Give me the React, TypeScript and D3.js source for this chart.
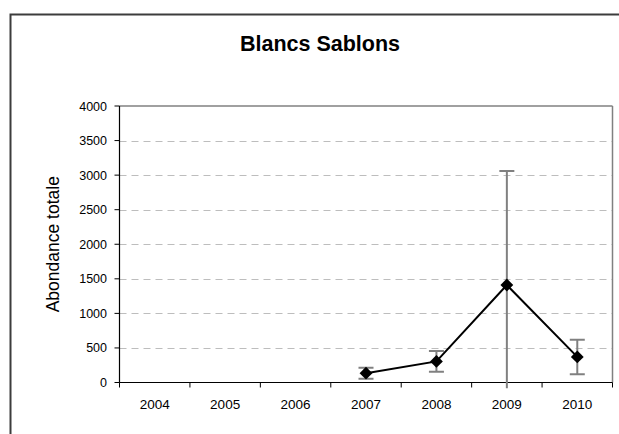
import React from "react";
import * as d3 from "d3";

const years = ["2004", "2005", "2006", "2007", "2008", "2009", "2010"];
const values: (number | null)[] = [null, null, null, 135, 305, 1410, 370];
const errors: (number | null)[] = [null, null, null, 80, 150, 1650, 250];
const yTicks = [0, 500, 1000, 1500, 2000, 2500, 3000, 3500, 4000];
const title = "Blancs Sablons";
const yTitle = "Abondance totale";

const W = 619;
const H = 434;
const left = 119.5;
const right = 612.5;
const top = 106;
const bottom = 382.5;

export default function App() {
  const x = d3.scaleBand<string>().domain(years).range([left, right]).padding(0);
  const y = d3.scaleLinear().domain([0, 4000]).range([bottom, top]);
  const cx = (yr: string) => (x(yr) as number) + x.bandwidth() / 2;

  const pts = years
    .map((yr, i) => ({ yr, v: values[i], e: errors[i] }))
    .filter((d) => d.v !== null) as { yr: string; v: number; e: number }[];

  const line = d3
    .line<{ yr: string; v: number }>()
    .x((d) => cx(d.yr))
    .y((d) => y(d.v));

  const diamond = d3.symbol().type(d3.symbolDiamond2).size(105)() as string;
  const capHalf = 7.5;
  const font = "Arial, 'Liberation Sans', sans-serif";

  return (
    <svg
      width={W}
      height={H}
      style={{ position: "absolute", left: 0, top: 0, background: "#fff" }}
    >
      <defs>
        <clipPath id="errclip">
          <rect x={left - 20} y={top - 80} width={right - left + 40} height={bottom - top + 86} />
        </clipPath>
      </defs>
      <rect x={0} y={0} width={W} height={H} fill="#fff" />
      {/* outer frame, clipped by the image edges */}
      <rect x={10.5} y={14.5} width={W + 20} height={H + 20} fill="none" stroke="#3c3c3c" strokeWidth={2} />

      <text
        x={320}
        y={51}
        textAnchor="middle"
        fontFamily={font}
        fontWeight="bold"
        fontSize={21.5}
        fill="#000"
      >
        {title}
      </text>

      {/* gridlines */}
      {yTicks
        .filter((t) => t > 0 && t < 4000)
        .map((t) => (
          <line
            key={"g" + t}
            x1={left}
            x2={right}
            y1={Math.round(y(t)) + 0.5}
            y2={Math.round(y(t)) + 0.5}
            stroke="#bdbdbd"
            strokeWidth={1}
            strokeDasharray="7,5"
          />
        ))}

      {/* plot area top and right border */}
      <line x1={left} x2={right} y1={top} y2={top} stroke="#808080" strokeWidth={1.5} />
      <line x1={right} x2={right} y1={top} y2={bottom} stroke="#808080" strokeWidth={1.5} />

      {/* y axis */}
      <line x1={left} x2={left} y1={top} y2={bottom} stroke="#000" strokeWidth={1.2} />
      {yTicks.map((t) => (
        <g key={"y" + t}>
          <line x1={left - 5} x2={left} y1={y(t)} y2={y(t)} stroke="#000" strokeWidth={1} />
          <text
            x={107}
            y={y(t) + 4.5}
            textAnchor="end"
            fontFamily={font}
            fontSize={12.5}
            fill="#000"
          >
            {t}
          </text>
        </g>
      ))}

      {/* x axis */}
      <line x1={left} x2={right} y1={bottom} y2={bottom} stroke="#000" strokeWidth={1.2} />
      {years.map((yr) => (
        <line
          key={"xt" + yr}
          x1={x(yr) as number}
          x2={x(yr) as number}
          y1={bottom}
          y2={bottom + 5}
          stroke="#000"
          strokeWidth={1}
        />
      ))}
      <line x1={right} x2={right} y1={bottom} y2={bottom + 5} stroke="#000" strokeWidth={1} />
      {years.map((yr) => (
        <text
          key={"xl" + yr}
          x={cx(yr)}
          y={409}
          textAnchor="middle"
          fontFamily={font}
          fontSize={13.5}
          fill="#000"
        >
          {yr}
        </text>
      ))}

      <text
        transform={`translate(59,${(top + bottom) / 2}) rotate(-90)`}
        textAnchor="middle"
        fontFamily={font}
        fontSize={17.5}
        fill="#000"
      >
        {yTitle}
      </text>

      {/* error bars */}
      <g clipPath="url(#errclip)" stroke="#808080" strokeWidth={2}>
        {pts.map((d) => {
          const px = cx(d.yr);
          const hi = y(d.v + d.e);
          const lo = y(d.v - d.e);
          const loClipped = Math.min(lo, bottom + 6);
          return (
            <g key={"e" + d.yr}>
              <line x1={px} x2={px} y1={hi} y2={loClipped} />
              <line x1={px - capHalf} x2={px + capHalf} y1={hi} y2={hi} />
              {lo <= bottom && <line x1={px - capHalf} x2={px + capHalf} y1={lo} y2={lo} />}
            </g>
          );
        })}
      </g>

      {/* series line */}
      <path d={line(pts) as string} fill="none" stroke="#000" strokeWidth={2} />
      {pts.map((d) => (
        <path
          key={"m" + d.yr}
          d={diamond}
          transform={`translate(${cx(d.yr)},${y(d.v)})`}
          fill="#000"
        />
      ))}
    </svg>
  );
}
